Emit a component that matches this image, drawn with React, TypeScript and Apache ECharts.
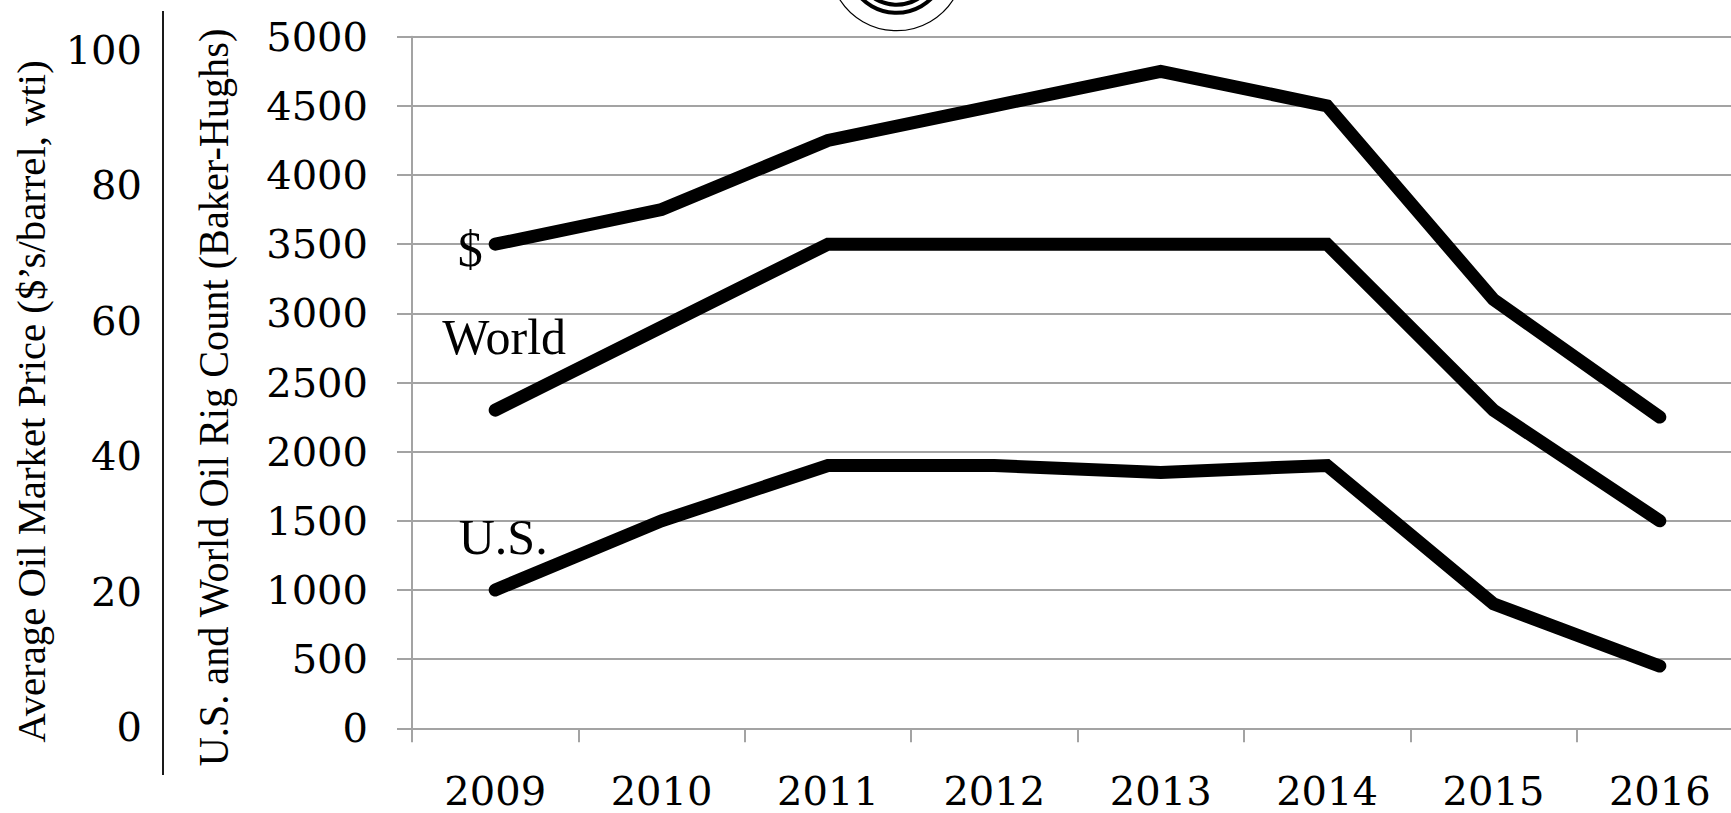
import React, { useEffect, useRef } from "react";
import * as echarts from "echarts";

// Calendar years on the category axis
const years = ["2009", "2010", "2011", "2012", "2013", "2014", "2015", "2016"];
// Average WTI oil price, $ per barrel
const oilPrice = [70, 75, 85, 90, 95, 90, 62, 45];
// Baker-Hughes rig counts
const worldRigs = [2300, 2900, 3500, 3500, 3500, 3500, 2300, 1500];
const usRigs = [1000, 1500, 1900, 1900, 1850, 1900, 900, 450];

const priceTitle = "Average Oil Market Price ($\u2019s/barrel, wti)";
const rigTitle = "U.S. and World Oil Rig Count (Baker-Hughs)";

const W = 1731;
const H = 813;
// the plot runs a little past the right edge of the frame
const CHART_W = 1743;
const GRAY = "#a3a3a3";
const NUM_FONT = "DejaVu Serif";
const TEXT_FONT = "Liberation Serif";

// Scale factor that squeezes a rotated title into the height available for it
function fitScale(text: string, size: number, target: number): number {
  const ctx = document.createElement("canvas").getContext("2d");
  if (!ctx) return 1;
  ctx.font = `${size}px "${TEXT_FONT}"`;
  const w = ctx.measureText(text).width;
  return w > 0 ? target / w : 1;
}

function withFirstLabel(values: number[], text: string, offset: number[]) {
  return values.map((v, i) =>
    i === 0
      ? {
          value: v,
          label: {
            show: true,
            formatter: text,
            position: "inside",
            offset,
            fontFamily: TEXT_FONT,
            fontSize: 50,
            color: "#000",
          },
        }
      : v
  );
}

function lineSeries(name: string, yAxisIndex: number, data: any[]) {
  return {
    type: "line",
    name,
    xAxisIndex: 0,
    yAxisIndex,
    data,
    symbol: "circle",
    symbolSize: 0,
    showSymbol: true,
    label: { show: false },
    lineStyle: { color: "#000", width: 13, cap: "round", join: "miter" },
    itemStyle: { color: "#000" },
    z: 5,
  };
}

export default function App() {
  const ref = useRef<HTMLDivElement>(null);

  useEffect(() => {
    if (!ref.current) return;
    const chart = echarts.init(ref.current, undefined, { renderer: "svg" });

    const numLabel = {
      fontFamily: NUM_FONT,
      fontSize: 40,
      color: "#000",
      padding: [8, 0, 0, 0],
      formatter: (v: number) => String(v),
    };

    const logoCx = 896.5;
    const logoCy = -36.6;

    chart.setOption({
      animation: false,
      backgroundColor: "#fff",
      grid: [
        { left: 412, top: 36.7, right: 0, bottom: 84.7 },
        { left: 412, top: 50, right: 0, bottom: 86 },
      ],
      xAxis: [
        {
          type: "category",
          gridIndex: 0,
          data: years,
          boundaryGap: true,
          axisLine: { show: true, lineStyle: { color: GRAY, width: 2 } },
          axisTick: { show: true, length: 14, lineStyle: { color: GRAY, width: 2 } },
          axisLabel: {
            interval: 0,
            margin: 43,
            fontFamily: NUM_FONT,
            fontSize: 40,
            color: "#000",
          },
          splitLine: { show: false },
        },
        { type: "category", gridIndex: 1, data: years, show: false },
      ],
      yAxis: [
        {
          type: "value",
          gridIndex: 0,
          min: 0,
          max: 5000,
          interval: 500,
          axisLine: { show: true, lineStyle: { color: GRAY, width: 2 } },
          axisTick: { show: true, length: 15, lineStyle: { color: GRAY, width: 2 } },
          splitLine: { show: true, lineStyle: { color: GRAY, width: 2 } },
          axisLabel: { ...numLabel, margin: 44 },
        },
        {
          // price scale used by the $ line
          type: "value",
          gridIndex: 0,
          min: 0,
          max: 100,
          show: false,
        },
        {
          // price tick labels drawn in the outer column
          type: "value",
          gridIndex: 1,
          min: 0,
          max: 100,
          interval: 20,
          position: "left",
          axisLine: { show: false },
          axisTick: { show: false },
          splitLine: { show: false },
          axisLabel: { ...numLabel, margin: 270 },
        },
      ],
      series: [
        lineSeries("$", 1, withFirstLabel(oilPrice, "$", [-25, 5])),
        lineSeries("World", 0, withFirstLabel(worldRigs, "World", [9, -73])),
        lineSeries("U.S.", 0, withFirstLabel(usRigs, "U.S.", [8, -53])),
      ],
      graphic: [
        {
          type: "line",
          shape: { x1: 163, y1: 11, x2: 163, y2: 775 },
          style: { stroke: "#1a1a1a", lineWidth: 2 },
          silent: true,
        },
        {
          type: "text",
          x: 31.5,
          y: 401.5,
          rotation: Math.PI / 2,
          scaleX: fitScale(priceTitle, 41, 683),
          style: {
            text: priceTitle,
            fontFamily: TEXT_FONT,
            fontSize: 41,
            fill: "#000",
            align: "center",
            verticalAlign: "middle",
          },
          silent: true,
        },
        {
          type: "text",
          x: 214,
          y: 397.5,
          rotation: Math.PI / 2,
          scaleX: fitScale(rigTitle, 42, 739),
          style: {
            text: rigTitle,
            fontFamily: TEXT_FONT,
            fontSize: 42,
            fill: "#000",
            align: "center",
            verticalAlign: "middle",
          },
          silent: true,
        },
        {
          type: "circle",
          shape: { cx: logoCx, cy: logoCy, r: 67.3 },
          style: { fill: "none", stroke: "#000", lineWidth: 1.2 },
          silent: true,
        },
        {
          type: "circle",
          shape: { cx: logoCx, cy: logoCy, r: 49.4 },
          style: { fill: "none", stroke: "#000", lineWidth: 4 },
          silent: true,
        },
        {
          type: "circle",
          shape: { cx: logoCx, cy: logoCy, r: 41.3 },
          style: { fill: "none", stroke: "#000", lineWidth: 4 },
          silent: true,
        },
      ],
    });

    return () => chart.dispose();
  }, []);

  return (
    <div
      style={{
        position: "fixed",
        left: 0,
        top: 0,
        width: W,
        height: H,
        overflow: "hidden",
        background: "#fff",
      }}
    >
      <div ref={ref} style={{ width: CHART_W, height: H }} />
    </div>
  );
}
